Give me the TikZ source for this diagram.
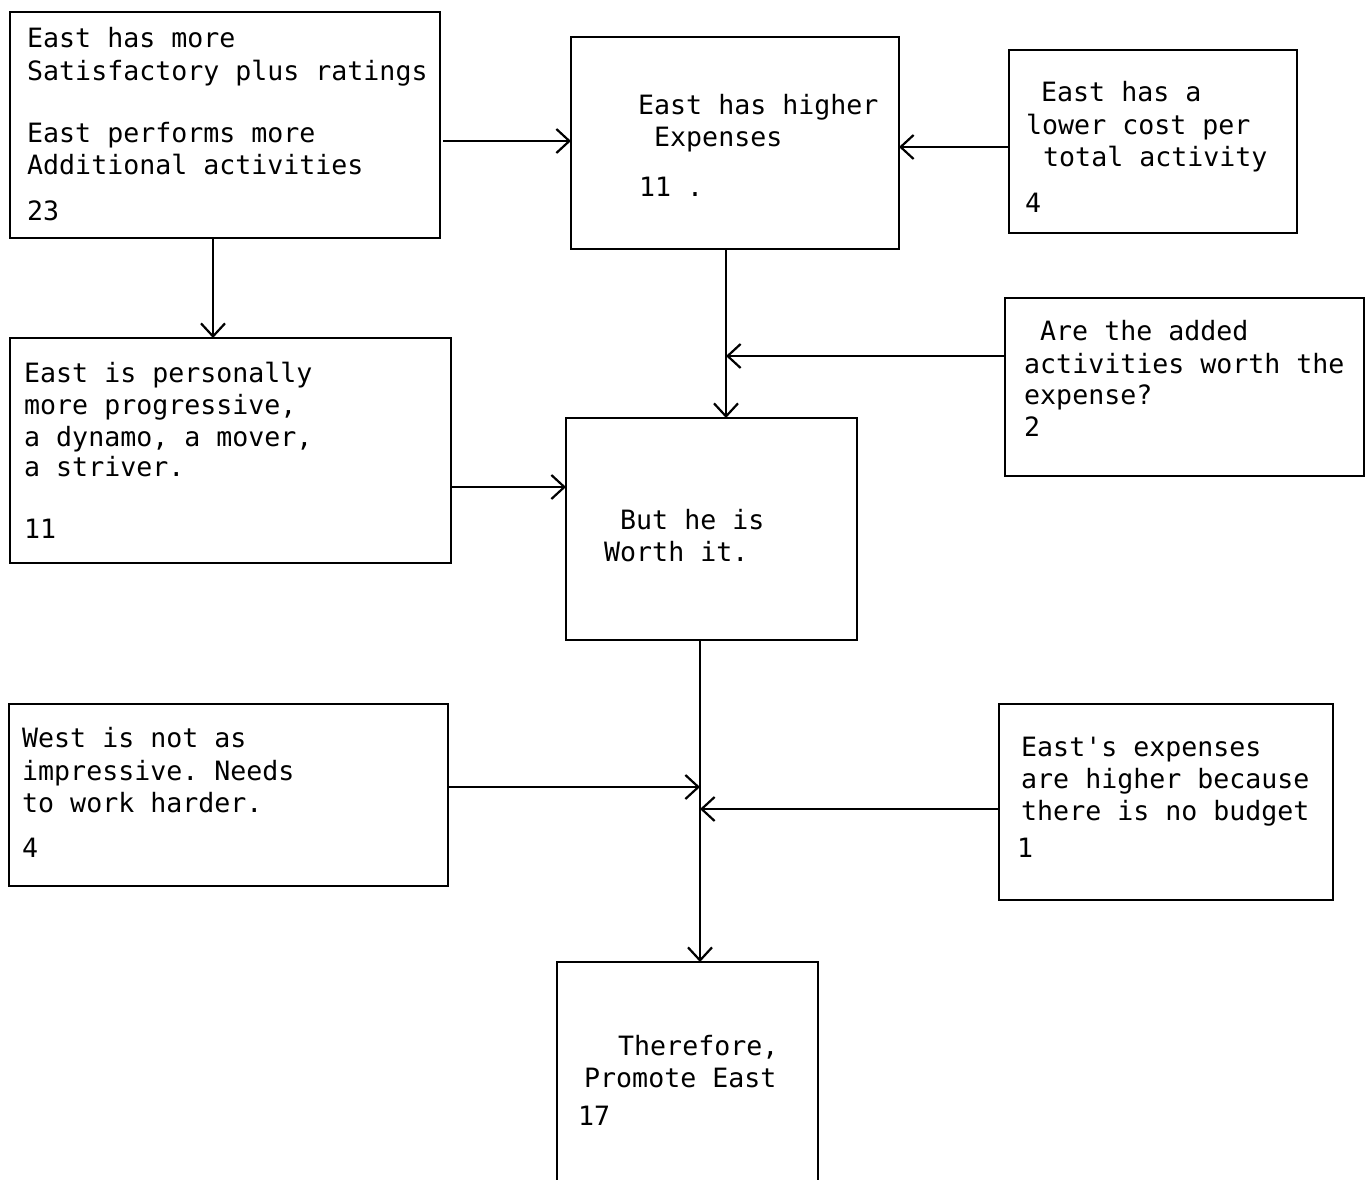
\documentclass[tikz,border=0pt]{standalone}
\usepackage{fontspec}
\setmonofont{DejaVu Sans Mono}
\usetikzlibrary{arrows.meta}
\tikzset{
  box/.style={draw, line width=2.8pt, rectangle, inner sep=0pt, outer sep=0pt, anchor=north west},
  conn/.style={line width=2.2pt, -{Straight Barb[length=13pt, width=24pt, line width=2.2pt]}},
  txt/.style={anchor=base west, inner sep=0pt, font=\ttfamily\fontsize{26.6}{32}\selectfont}
}
\begin{document}
\begin{tikzpicture}[x=1pt, y=-1pt]
\useasboundingbox (0,0) rectangle (1366,1179);
\clip (0,0) rectangle (1366,1179);
% boxes
\node[box, minimum width=430pt, minimum height=226pt] (A) at (10,12) {};
\node[box, minimum width=328pt, minimum height=212pt] (B) at (571,37) {};
\node[box, minimum width=288pt, minimum height=183pt] (C) at (1009,50) {};
\node[box, minimum width=441pt, minimum height=225pt] (D) at (10,338) {};
\node[box, minimum width=291pt, minimum height=222pt] (E) at (566,418) {};
\node[box, minimum width=359pt, minimum height=178pt] (F) at (1005,298) {};
\node[box, minimum width=439pt, minimum height=182pt] (G) at (9,704) {};
\node[box, minimum width=334pt, minimum height=196pt] (H) at (999,704) {};
\node[box, minimum width=261pt, minimum height=230pt] (I) at (557,962) {};
% texts
\node[txt] (a1) at (27,47) {East has more};
\node[txt] (a2) at (27,80) {Satisfactory plus ratings};
\node[txt] (a3) at (27,142) {East performs more};
\node[txt] (a4) at (27,174) {Additional activities};
\node[txt] (a5) at (27,220) {23};
\node[txt] (b1) at (638,114) {East has higher};
\node[txt] (b2) at (654,146) {Expenses};
\node[txt] (b3) at (639,196) {11 .};
\node[txt] (c1) at (1041,101) {East has a};
\node[txt] (c2) at (1026,134) {lower cost per};
\node[txt] (c3) at (1043,166) {total activity};
\node[txt] (c4) at (1025,212) {4};
\node[txt] (d1) at (24,382) {East is personally};
\node[txt] (d2) at (24,414) {more progressive,};
\node[txt] (d3) at (24,446) {a dynamo, a mover,};
\node[txt] (d4) at (24,476) {a striver.};
\node[txt] (d5) at (24,538) {11};
\node[txt] (e1) at (620,529) {But he is};
\node[txt] (e2) at (604,561) {Worth it.};
\node[txt] (f1) at (1040,340) {Are the added};
\node[txt] (f2) at (1024,373) {activities worth the};
\node[txt] (f3) at (1024,404) {expense?};
\node[txt] (f4) at (1024,436) {2};
\node[txt] (g1) at (22,747) {West is not as};
\node[txt] (g2) at (22,780) {impressive. Needs};
\node[txt] (g3) at (22,812) {to work harder.};
\node[txt] (g4) at (22,857) {4};
\node[txt] (h1) at (1021,756) {East's expenses};
\node[txt] (h2) at (1021,788) {are higher because};
\node[txt] (h3) at (1021,820) {there is no budget};
\node[txt] (h4) at (1017,857) {1};
\node[txt] (i1) at (618,1055) {Therefore,};
\node[txt] (i2) at (584,1087) {Promote East};
\node[txt] (i3) at (578,1125) {17};
% junction coordinates
\coordinate (jBE) at (726,356);
\coordinate (jEI1) at (700,787);
\coordinate (jEI2) at (700,809);
% connectors
\draw[conn] (A.east |- 0,141) ++(3,0) -- (B.west |- 0,141);
\draw[conn] (A.south -| 213,0) -- (D.north -| 213,0);
\draw[conn] (C.west |- 0,147) -- (B.east |- 0,147);
\draw[conn] (B.south -| 726,0) -- (E.north -| 726,0);
\draw[conn] (F.west |- jBE) -- (jBE);
\draw[conn] (D.east |- 0,487) -- (E.west |- 0,487);
\draw[conn] (E.south -| 700,0) -- (I.north -| 700,0);
\draw[conn] (G.east |- jEI1) -- (jEI1);
\draw[conn] (H.west |- jEI2) -- (jEI2);
\end{tikzpicture}
\end{document}
